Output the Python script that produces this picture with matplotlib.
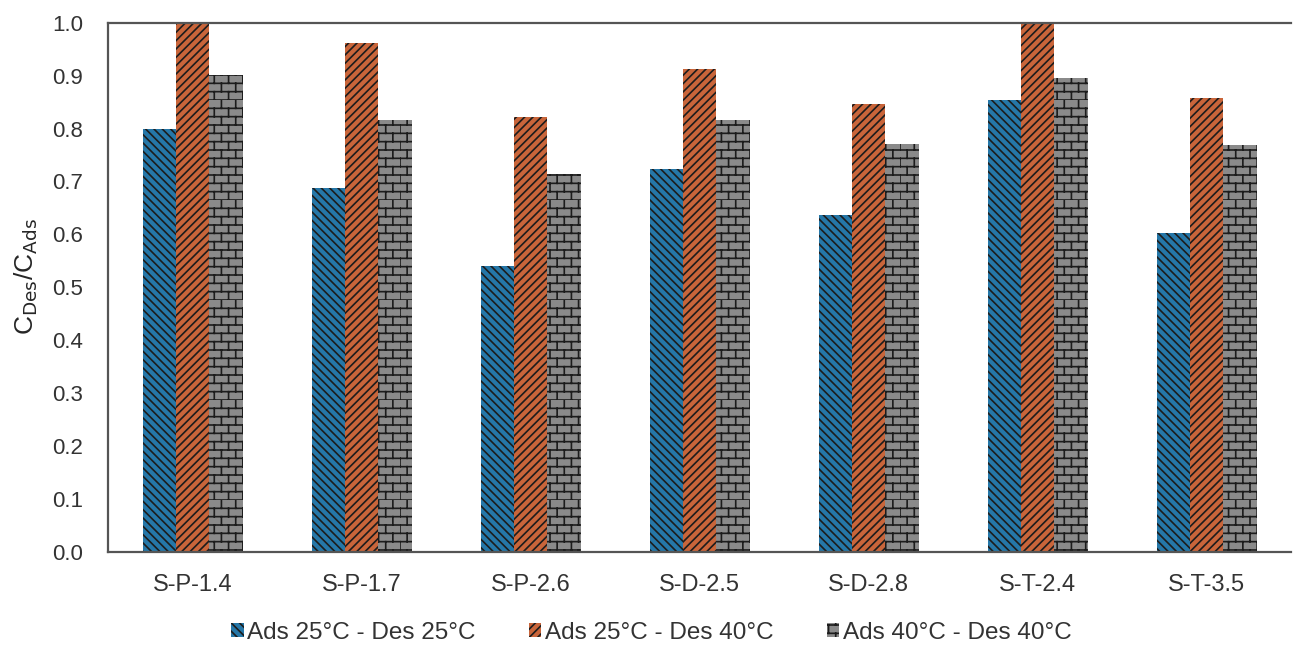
import numpy as np
import matplotlib
matplotlib.use("Agg")
import matplotlib.pyplot as plt
import matplotlib.hatch as mhatch
from matplotlib.path import Path

samples = ["S-P-1.4", "S-P-1.7", "S-P-2.6", "S-D-2.5", "S-D-2.8", "S-T-2.4", "S-T-3.5"]
ads25_des25 = [0.800, 0.688, 0.541, 0.724, 0.637, 0.854, 0.603]
ads25_des40 = [1.000, 0.962, 0.822, 0.913, 0.847, 1.000, 0.858]
ads40_des40 = [0.902, 0.817, 0.715, 0.817, 0.771, 0.896, 0.769]
series_labels = ["Ads 25°C - Des 25°C", "Ads 25°C - Des 40°C", "Ads 40°C - Des 40°C"]
y_ticks = [0.0, 0.1, 0.2, 0.3, 0.4, 0.5, 0.6, 0.7, 0.8, 0.9, 1.0]


class BrickHatch(mhatch.HatchPatternBase):
    """Running-bond brick pattern, drawn for the 'O' hatch character."""
    rows = 12
    per_row = 7

    def __init__(self, hatch, density):
        self.active = hatch.count("O") > 0
        self.num_vertices = 2 * self.rows * (self.per_row + 1) if self.active else 0

    def set_vertices_and_codes(self, vertices, codes):
        h = 1.0 / self.rows
        w = 1.0 / self.per_row
        pts = []
        for r in range(self.rows):
            y0 = r * h
            pts += [(0.0, y0), (1.0, y0)]
            off = 0.0 if r % 2 == 0 else w / 2
            for k in range(self.per_row):
                x = k * w + off
                pts += [(x, y0), (x, y0 + h)]
        vertices[:] = pts
        codes[0::2] = Path.MOVETO
        codes[1::2] = Path.LINETO


mhatch._hatch_types = [t for t in mhatch._hatch_types if t is not mhatch.LargeCircles] + [BrickHatch]

plt.rcParams["font.family"] = ["Liberation Sans", "DejaVu Sans"]
plt.rcParams["hatch.linewidth"] = 1.2

fig = plt.figure(figsize=(13.03, 6.5), dpi=100)
ax = fig.add_axes([0.083, 0.151, 0.908, 0.814])

x = np.arange(len(samples))
bw = 0.197
face_colors = ["#2577a8", "#c9653a", "#8a8a8a"]
hatches = ["\\\\\\\\", "////", "O"]
series = [ads25_des25, ads25_des40, ads40_des40]
for i, (vals, fc, lab, hd) in enumerate(zip(series, face_colors, series_labels, hatches)):
    ax.bar(x + (i - 1) * bw, vals, width=bw, facecolor=fc,
           edgecolor="#1c1c1c", linewidth=0, hatch=hd, label=lab, zorder=2)

ax.set_xlim(-0.5, len(samples) - 0.5)
ax.set_ylim(0, 1.0)
ax.set_yticks(y_ticks)
ax.set_yticklabels([f"{t:.1f}" for t in y_ticks])
ax.set_xticks(x)
ax.set_xticklabels(samples)
ax.tick_params(axis="both", length=0, colors="#333333")
ax.tick_params(axis="y", labelsize=16, pad=18)
ax.tick_params(axis="x", labelsize=17, pad=16)

for side in ["left", "bottom", "top"]:
    ax.spines[side].set_color("#555555")
    ax.spines[side].set_linewidth(1.6)
ax.spines["right"].set_visible(False)

ax.set_ylabel(r"C$_{\mathrm{Des}}$/C$_{\mathrm{Ads}}$", fontsize=19, color="#262626")
ax.yaxis.set_label_coords(-0.058, 0.52)

handles, labels = ax.get_legend_handles_labels()
fig.legend(handles, labels, loc="center", bbox_to_anchor=(0.5, 1 - 633 / 650), ncol=3,
           frameon=False, fontsize=17.5, handlelength=0.5, handleheight=0.5,
           handletextpad=0.15, columnspacing=2.2, labelcolor="#333333", borderpad=0.1)

fig.savefig("out.png", dpi=100)
